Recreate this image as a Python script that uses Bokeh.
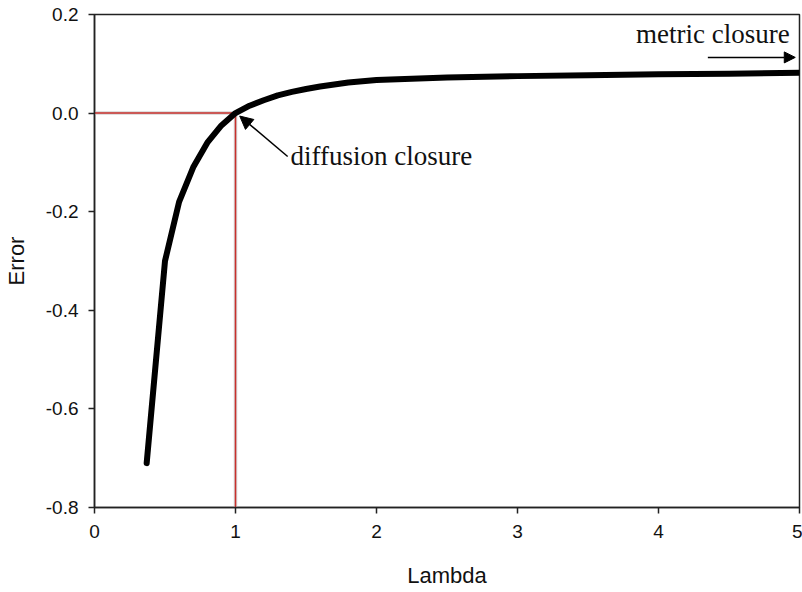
from bokeh.plotting import figure
from bokeh.models import Range1d, Arrow, NormalHead, FixedTicker, Label
from bokeh.embed import file_html
from bokeh.resources import INLINE

# data
lam = [0.37, 0.5, 0.6, 0.7, 0.8, 0.9, 1.0, 1.1, 1.2, 1.3, 1.4, 1.5, 1.6, 1.8, 2.0, 2.5, 3.0, 3.5, 4.0, 4.5, 5.0]
err = [-0.71, -0.30, -0.18, -0.11, -0.06, -0.025, 0.0, 0.015, 0.026, 0.036, 0.043, 0.049, 0.054, 0.062, 0.067, 0.072, 0.075, 0.077, 0.079, 0.080, 0.082]
x_ticks = [0, 1, 2, 3, 4, 5]
y_ticks = [-0.8, -0.6, -0.4, -0.2, 0.0, 0.2]
crit_lambda = 1.0
crit_err = 0.0
diff_label = "diffusion closure"
metric_label = "metric closure"

p = figure(width=802, height=592, output_backend="svg", toolbar_location=None,
           x_range=Range1d(0, 5), y_range=Range1d(-0.8, 0.2),
           min_border_left=94, min_border_right=3, min_border_top=14, min_border_bottom=85)
p.background_fill_color = "white"
p.border_fill_color = "white"
p.outline_line_color = "#222222"
p.outline_line_width = 1.5
p.xgrid.visible = False
p.ygrid.visible = False

for ax in (p.xaxis[0], p.yaxis[0]):
    ax.axis_line_color = "#222222"
    ax.axis_line_width = 1.5
    ax.major_tick_line_color = "#222222"
    ax.major_tick_line_width = 1.5
    ax.major_tick_out = 6
    ax.major_tick_in = 0
    ax.minor_tick_out = 0
    ax.minor_tick_in = 0
    ax.major_label_text_font = "Liberation Sans"
    ax.major_label_text_font_size = "19px"
    ax.major_label_text_color = "#111111"
    ax.axis_label_text_font = "Liberation Sans"
    ax.axis_label_text_font_size = "22px"
    ax.axis_label_text_font_style = "normal"
    ax.axis_label_text_color = "#111111"

p.xaxis.ticker = FixedTicker(ticks=x_ticks)
p.yaxis.ticker = FixedTicker(ticks=y_ticks)
p.yaxis.major_label_overrides = {t: f"{t:.1f}" for t in y_ticks}
p.xaxis.major_label_overrides = {t: str(t) for t in x_ticks}
p.xaxis.axis_label = "Lambda"
p.yaxis.axis_label = "Error"
p.xaxis.major_label_standoff = 11
p.xaxis.axis_label_standoff = 22
p.yaxis.major_label_standoff = 10
p.yaxis.axis_label_standoff = 14

# red reference lines with faint shadow
p.line([0, crit_lambda], [crit_err, crit_err], line_color="#d4d4d4", line_width=3.5)
p.line([crit_lambda, crit_lambda], [-0.8, crit_err], line_color="#d4d4d4", line_width=3.5)
p.line([0, crit_lambda], [crit_err, crit_err], line_color="#c9302c", line_width=1.5)
p.line([crit_lambda, crit_lambda], [-0.8, crit_err], line_color="#c9302c", line_width=1.5)

# main curve
p.line(lam, err, line_color="black", line_width=6, line_join="round", line_cap="round")

# annotations
p.add_layout(Arrow(end=NormalHead(size=13, fill_color="black", line_color="black"),
                   x_start=1.37, y_start=-0.088, x_end=1.03, y_end=-0.006,
                   line_color="black", line_width=1.5))
p.add_layout(Label(x=1.39, y=-0.118, text=diff_label, text_font="Liberation Serif",
                   text_font_size="27px", text_color="#111111"))

p.add_layout(Arrow(end=NormalHead(size=11, fill_color="black", line_color="black"),
                   x_start=4.35, y_start=0.113, x_end=4.97, y_end=0.113,
                   line_color="black", line_width=1.5))
p.add_layout(Label(x=4.93, y=0.131, text=metric_label, text_font="Liberation Serif",
                   text_font_size="27px", text_color="#111111", text_align="right"))

open("out.html", "w").write(file_html(p, INLINE))
